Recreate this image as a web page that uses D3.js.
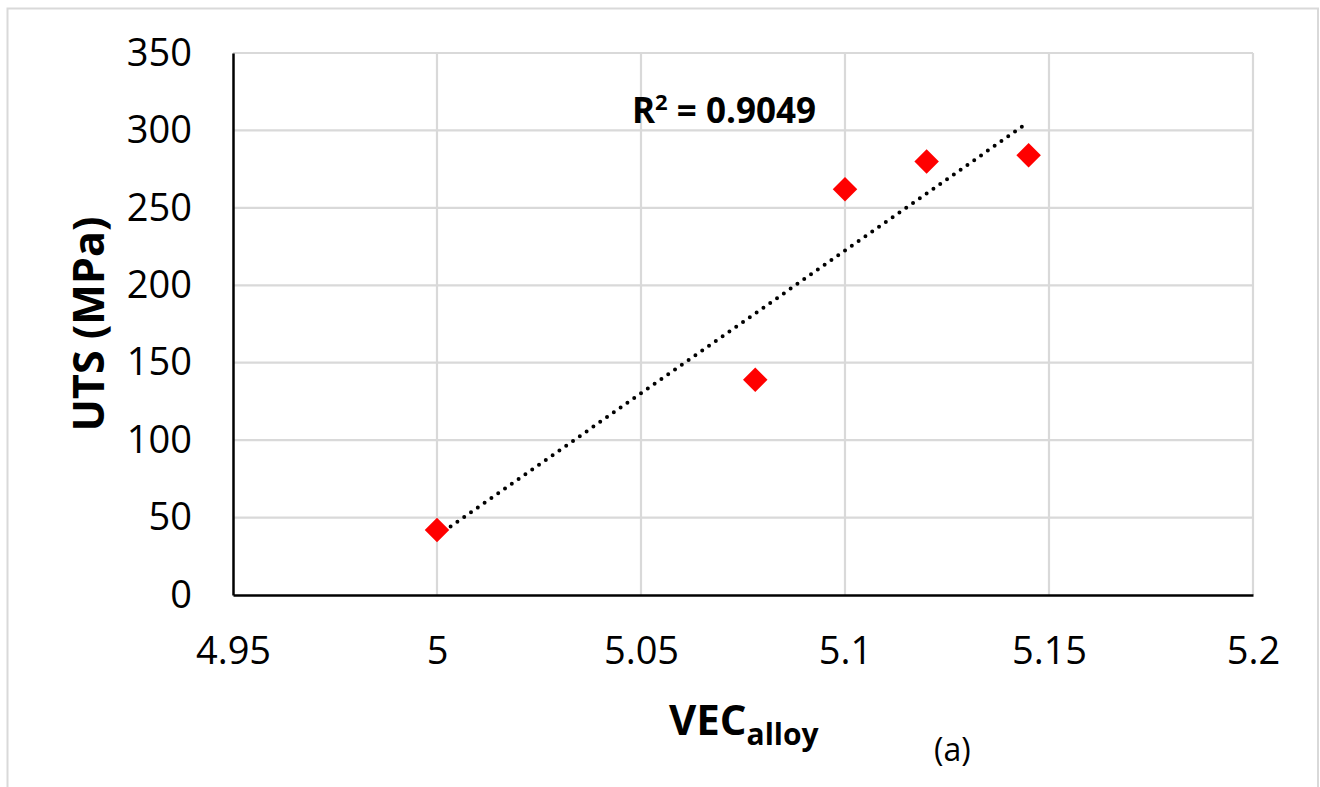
<!DOCTYPE html>
<html>
<head>
<meta charset="utf-8">
<script src="https://cdn.jsdelivr.net/npm/d3@7"></script>
<style>
  html, body { margin: 0; padding: 0; background: #fff; }
  svg { display: block; }
  text { font-family: "Open Sans", "DejaVu Sans", sans-serif; fill: #000; }
</style>
</head>
<body>
<svg id="chart" width="1320" height="787"></svg>
<script>
// ---- data ----
const vecValues = [5.0, 5.078, 5.1, 5.12, 5.145];
const utsValues = [42, 139, 262, 280, 284];
const xTickValues = [4.95, 5.0, 5.05, 5.1, 5.15, 5.2];
const xTickLabels = ["4.95", "5", "5.05", "5.1", "5.15", "5.2"];
const yTickValues = [0, 50, 100, 150, 200, 250, 300, 350];
const yTickLabels = ["0", "50", "100", "150", "200", "250", "300", "350"];
const r2Label = "0.9049";

const svg = d3.select("#chart");
const W = 1320, H = 787;
const margin = { left: 233, right: 67, top: 53, bottom: 192 };
const iw = W - margin.left - margin.right;
const ih = H - margin.top - margin.bottom;

// outer frame
svg.append("rect")
  .attr("x", 7.5).attr("y", 8.5)
  .attr("width", 1318 - 7.5).attr("height", 800)
  .attr("fill", "none").attr("stroke", "#d9d9d9").attr("stroke-width", 2);

const x = d3.scaleLinear().domain([4.95, 5.2]).range([0, iw]);
const y = d3.scaleLinear().domain([0, 350]).range([ih, 0]);

const g = svg.append("g").attr("transform", `translate(${margin.left},${margin.top})`);

// gridlines
g.append("g").selectAll("line").data(yTickValues.filter(v => v > 0)).join("line")
  .attr("x1", 0).attr("x2", iw)
  .attr("y1", d => y(d)).attr("y2", d => y(d))
  .attr("stroke", "#d9d9d9").attr("stroke-width", 2.2);
g.append("g").selectAll("line").data(xTickValues.filter(v => v > 4.95)).join("line")
  .attr("y1", 0).attr("y2", ih)
  .attr("x1", d => x(d)).attr("x2", d => x(d))
  .attr("stroke", "#d9d9d9").attr("stroke-width", 2.2);

// axes
const xAxis = d3.axisBottom(x).tickValues(xTickValues)
  .tickFormat((d, i) => xTickLabels[i]).tickSize(0).tickPadding(42);
const gx = g.append("g").attr("transform", `translate(0,${ih})`).call(xAxis);
gx.select(".domain").attr("stroke", "#000").attr("stroke-width", 2.5);
gx.selectAll("text").style("font-size", "38px").attr("fill", "#000")
  .style("font-family", '"Open Sans", sans-serif');

const yAxis = d3.axisLeft(y).tickValues(yTickValues)
  .tickFormat((d, i) => yTickLabels[i]).tickSize(0).tickPadding(41);
const gy = g.append("g").call(yAxis);
gy.select(".domain").attr("stroke", "#000").attr("stroke-width", 2.5);
gy.selectAll("text").style("font-size", "38px").attr("fill", "#000")
  .style("font-family", '"Open Sans", sans-serif');

// linear trendline (least squares from the data)
const n = vecValues.length;
const mx = d3.mean(vecValues), my = d3.mean(utsValues);
let sxy = 0, sxx = 0;
for (let i = 0; i < n; i++) {
  sxy += (vecValues[i] - mx) * (utsValues[i] - my);
  sxx += (vecValues[i] - mx) ** 2;
}
const slope = sxy / sxx, icpt = my - slope * mx;
const xmin = d3.min(vecValues), xmax = d3.max(vecValues);
g.append("line")
  .attr("x1", x(xmin)).attr("y1", y(icpt + slope * xmin))
  .attr("x2", x(xmax)).attr("y2", y(icpt + slope * xmax))
  .attr("stroke", "#000").attr("stroke-width", 4)
  .attr("stroke-linecap", "round").attr("stroke-dasharray", "0 8.3");

// markers (diamonds)
const diamond = d3.symbol().type(d3.symbolSquare).size(300);
g.append("g").selectAll("path").data(vecValues.map((v, i) => [v, utsValues[i]])).join("path")
  .attr("d", diamond)
  .attr("transform", d => `translate(${x(d[0])},${y(d[1])}) rotate(45)`)
  .attr("fill", "#ff0000");

// R² label
const r2 = svg.append("text").attr("x", 632).attr("y", 123)
  .style("font-size", "35px").style("font-weight", "bold");
r2.append("tspan").text("R");
r2.append("tspan").text("2").style("font-size", "22px").attr("dy", -13);
r2.append("tspan").text(" = " + r2Label).attr("dy", 13);

// y axis title
svg.append("text")
  .attr("transform", "translate(104,324) rotate(-90)")
  .attr("text-anchor", "middle")
  .style("font-size", "43px").style("font-weight", "bold")
  .text("UTS (MPa)");

// x axis title
const xt = svg.append("text").attr("x", 669).attr("y", 735)
  .style("font-size", "42px").style("font-weight", "bold");
xt.append("tspan").text("VEC");
xt.append("tspan").text("alloy").style("font-size", "30px").attr("dy", 10);

// panel label
svg.append("text").attr("x", 934).attr("y", 761)
  .style("font-size", "32px").text("(a)");
</script>
</body>
</html>
